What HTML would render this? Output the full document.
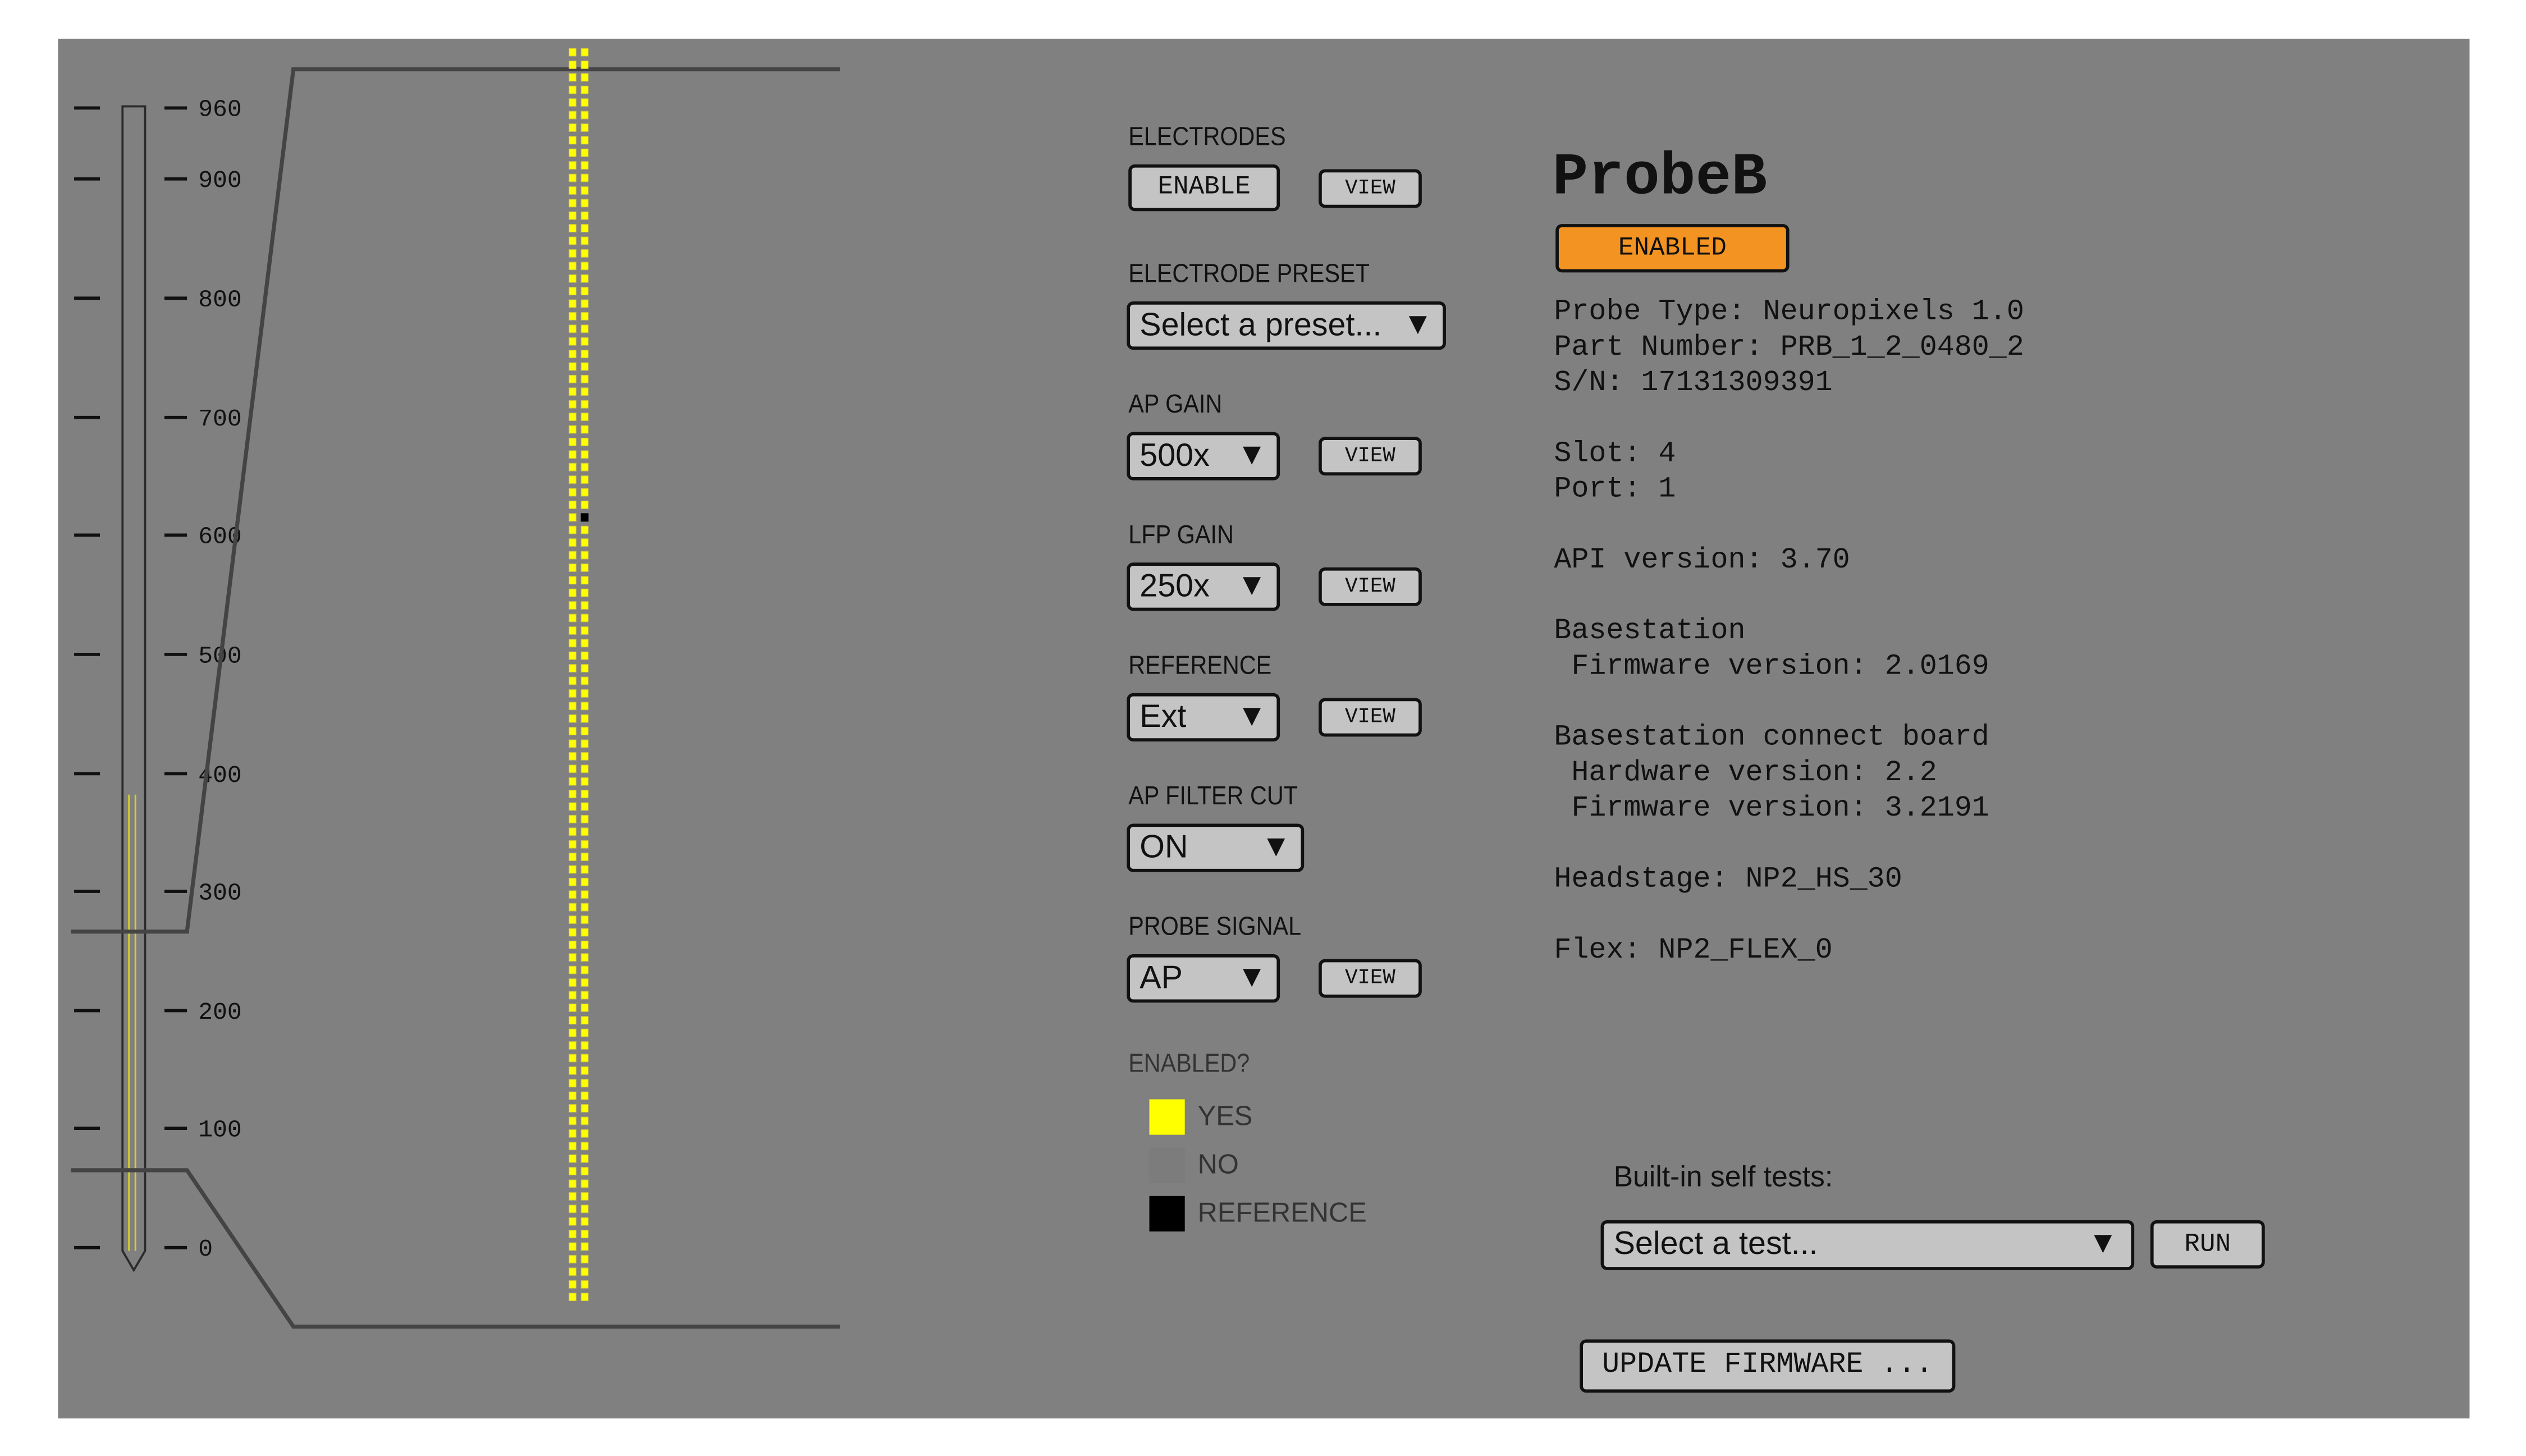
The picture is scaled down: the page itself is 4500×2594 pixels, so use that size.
<!DOCTYPE html>
<html><head><meta charset="utf-8"><style>
html,body{margin:0;padding:0;background:#fff;width:4500px;height:2594px;overflow:hidden}
#s{position:absolute;left:0;top:0;width:1567px;height:903px;transform:scale(2.8717);transform-origin:0 0}
#bg{position:absolute;left:36px;top:24px;width:1496px;height:856px;background:#808080}
.a{position:absolute;white-space:nowrap}
.lbl{font-family:"Liberation Sans",sans-serif;font-size:16px;color:#111;transform:scaleX(0.9);transform-origin:0 50%}
.btn{position:absolute;background:#c4c4c4;border:2px solid #111;border-radius:4px;box-sizing:border-box;font-family:"Liberation Mono",monospace;color:#111;text-align:center}
.dd{position:absolute;background:#c4c4c4;border:2px solid #111;border-radius:4px;box-sizing:border-box;font-family:"Liberation Sans",sans-serif;font-size:20px;color:#111;padding-left:6px;line-height:26px}
.dd .t{position:absolute;right:6px;top:0;font-size:19px}
.mono{font-family:"Liberation Mono",monospace;font-size:18px;color:#111;line-height:22px}
.leg{font-family:"Liberation Sans",sans-serif;font-size:17px;color:#333}
</style></head><body><div id="s">
<div id="bg"></div>
<svg class="a" style="left:0;top:0" width="1567" height="903" viewBox="0 0 1567 903">
<g stroke="#111" stroke-width="2">
<line x1="46" y1="67" x2="62" y2="67"/><line x1="102" y1="67" x2="116" y2="67"/>
<line x1="46" y1="111" x2="62" y2="111"/><line x1="102" y1="111" x2="116" y2="111"/>
<line x1="46" y1="185" x2="62" y2="185"/><line x1="102" y1="185" x2="116" y2="185"/>
<line x1="46" y1="259" x2="62" y2="259"/><line x1="102" y1="259" x2="116" y2="259"/>
<line x1="46" y1="332" x2="62" y2="332"/><line x1="102" y1="332" x2="116" y2="332"/>
<line x1="46" y1="406" x2="62" y2="406"/><line x1="102" y1="406" x2="116" y2="406"/>
<line x1="46" y1="480" x2="62" y2="480"/><line x1="102" y1="480" x2="116" y2="480"/>
<line x1="46" y1="553" x2="62" y2="553"/><line x1="102" y1="553" x2="116" y2="553"/>
<line x1="46" y1="627" x2="62" y2="627"/><line x1="102" y1="627" x2="116" y2="627"/>
<line x1="46" y1="700" x2="62" y2="700"/><line x1="102" y1="700" x2="116" y2="700"/>
<line x1="46" y1="774" x2="62" y2="774"/><line x1="102" y1="774" x2="116" y2="774"/>
</g>
<g font-family="Liberation Mono,monospace" font-size="15" fill="#111">
<text x="123" y="72">960</text><text x="123" y="116">900</text><text x="123" y="190">800</text>
<text x="123" y="264">700</text><text x="123" y="337">600</text><text x="123" y="411">500</text>
<text x="123" y="485">400</text><text x="123" y="558">300</text><text x="123" y="632">200</text>
<text x="123" y="705">100</text><text x="123" y="779">0</text>
</g>
<line x1="80" y1="493" x2="80" y2="776" stroke="#d8d020" stroke-width="1"/>
<line x1="84" y1="493" x2="84" y2="776" stroke="#d8d020" stroke-width="1"/>
<path d="M76,66 H90 V776 L83,788 L76,776 Z" fill="none" stroke="#2a2a2a" stroke-width="1.3"/>
<polyline points="44,578 116,578 182,43 521,43" fill="none" stroke="#444" stroke-width="2.5"/>
<polyline points="44,726 116,726 182,823 521,823" fill="none" stroke="#444" stroke-width="2.5"/>
<g id="el" fill="#ffff00" stroke="#c8c040" stroke-width="0.4"></g>
</svg>
<script>
(function(){var g=document.getElementById('el'),h='';for(var i=0;i<100;i++){var y=30+i*7.8;h+='<rect x="353" y="'+y.toFixed(2)+'" width="4.4" height="4.8"/><rect x="360.5" y="'+y.toFixed(2)+'" width="4.4" height="4.8"'+(i==37?' fill="#000" stroke="#000"':'')+'/>';}g.innerHTML=h;})();
</script>

<div class="a lbl" style="left:700px;top:77px">ELECTRODES</div>
<div class="btn" style="left:700px;top:102px;width:94px;height:29px;font-size:16px;line-height:25px">ENABLE</div>
<div class="btn" style="left:818px;top:105px;width:64px;height:24px;font-size:13px;line-height:20px">VIEW</div>

<div class="a lbl" style="left:700px;top:162px">ELECTRODE PRESET</div>
<div class="dd" style="left:699px;top:187px;width:198px;height:30px">Select a preset...<span class="t">▼</span></div>

<div class="a lbl" style="left:700px;top:243px">AP GAIN</div>
<div class="dd" style="left:699px;top:268px;width:95px;height:30px">500x<span class="t">▼</span></div>
<div class="btn" style="left:818px;top:271px;width:64px;height:24px;font-size:13px;line-height:20px">VIEW</div>

<div class="a lbl" style="left:700px;top:324px">LFP GAIN</div>
<div class="dd" style="left:699px;top:349px;width:95px;height:30px">250x<span class="t">▼</span></div>
<div class="btn" style="left:818px;top:352px;width:64px;height:24px;font-size:13px;line-height:20px">VIEW</div>

<div class="a lbl" style="left:700px;top:405px">REFERENCE</div>
<div class="dd" style="left:699px;top:430px;width:95px;height:30px">Ext<span class="t">▼</span></div>
<div class="btn" style="left:818px;top:433px;width:64px;height:24px;font-size:13px;line-height:20px">VIEW</div>

<div class="a lbl" style="left:700px;top:486px">AP FILTER CUT</div>
<div class="dd" style="left:699px;top:511px;width:110px;height:30px">ON<span class="t">▼</span></div>

<div class="a lbl" style="left:700px;top:567px">PROBE SIGNAL</div>
<div class="dd" style="left:699px;top:592px;width:95px;height:30px">AP<span class="t">▼</span></div>
<div class="btn" style="left:818px;top:595px;width:64px;height:24px;font-size:13px;line-height:20px">VIEW</div>

<div class="a lbl" style="left:700px;top:652px;color:#333">ENABLED?</div>
<div class="a" style="left:713px;top:682px;width:22px;height:22px;background:#ffff00"></div>
<div class="a leg" style="left:743px;top:683px">YES</div>
<div class="a" style="left:713px;top:712px;width:22px;height:22px;background:#7c7c7c"></div>
<div class="a leg" style="left:743px;top:713px">NO</div>
<div class="a" style="left:713px;top:742px;width:22px;height:22px;background:#000"></div>
<div class="a leg" style="left:743px;top:743px">REFERENCE</div>

<div class="a" style="left:963px;top:90px;font-family:'Liberation Mono',monospace;font-size:37px;font-weight:bold;color:#111">ProbeB</div>
<div class="btn" style="left:965px;top:139px;width:145px;height:30px;background:#f39422;font-size:16px;line-height:26px;border-radius:4px">ENABLED</div>
<div class="a mono" style="left:964px;top:183px">Probe Type: Neuropixels 1.0<br>Part Number: PRB_1_2_0480_2<br>S/N: 17131309391<br><br>Slot: 4<br>Port: 1<br><br>API version: 3.70<br><br>Basestation<br>&nbsp;Firmware version: 2.0169<br><br>Basestation connect board<br>&nbsp;Hardware version: 2.2<br>&nbsp;Firmware version: 3.2191<br><br>Headstage: NP2_HS_30<br><br>Flex: NP2_FLEX_0</div>

<div class="a" style="left:1001px;top:720px;font-family:'Liberation Sans',sans-serif;font-size:18px;color:#111">Built-in self tests:</div>
<div class="dd" style="left:993px;top:757px;width:331px;height:31px">Select a test...<span class="t" style="right:8px">▼</span></div>
<div class="btn" style="left:1334px;top:757px;width:71px;height:30px;font-size:16px;line-height:26px">RUN</div>
<div class="btn" style="left:980px;top:831px;width:233px;height:33px;font-size:18px;line-height:29px">UPDATE FIRMWARE ...</div>
</div></body></html>
